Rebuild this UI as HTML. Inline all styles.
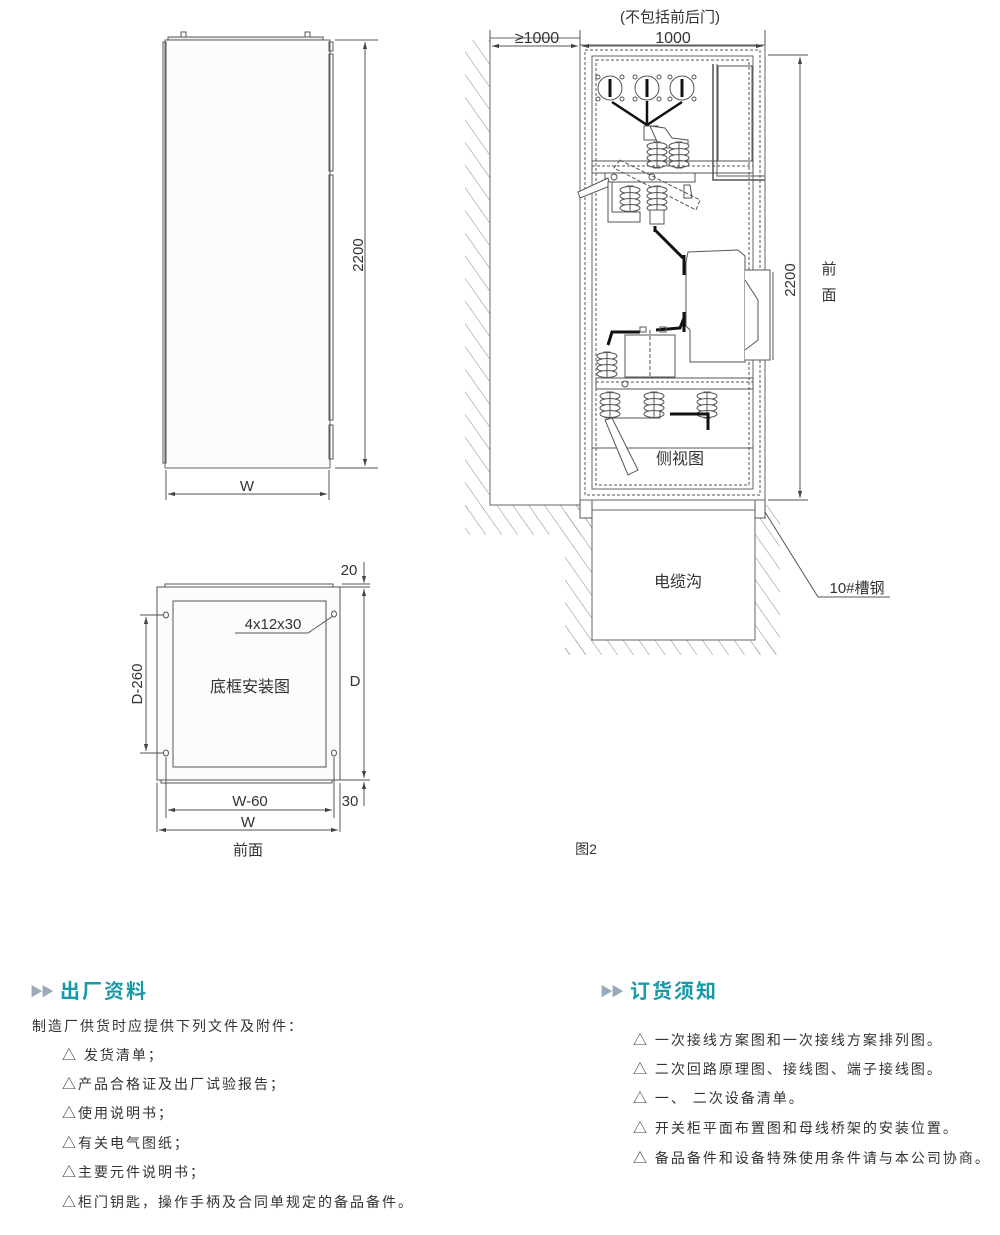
<!DOCTYPE html>
<html><head><meta charset="utf-8"><style>
body{margin:0;background:#fff;width:1000px;height:1235px;overflow:hidden;font-family:"Liberation Sans","Noto Sans CJK SC",sans-serif;}
svg{position:absolute;left:0;top:0}
.t{position:absolute;font-size:14px;color:#333;white-space:nowrap;letter-spacing:2px}
.h{position:absolute;font-size:20px;font-weight:bold;color:#1a9aa8;white-space:nowrap;letter-spacing:2px}
.h span{color:#9aaabb;font-size:13px;margin-right:8px;vertical-align:2px;letter-spacing:-2px}
</style></head><body>
<svg width="1000" height="900" viewBox="0 0 1000 900" font-family="Liberation Sans, Noto Sans CJK SC, sans-serif" fill="none" stroke="#555" stroke-width="1">
<defs>
<marker id="a" viewBox="0 0 10 10" refX="10" refY="5" markerWidth="7" markerHeight="7" orient="auto-start-reverse"><path d="M0,2 L10,5 L0,8z" fill="#444" stroke="none"/></marker>
<pattern id="hat" width="13" height="13" patternUnits="userSpaceOnUse" patternTransform="rotate(-35)"><line x1="0" y1="0" x2="0" y2="13" stroke="#888" stroke-width="1"/></pattern>
<g id="ins"><rect x="-3" y="0" width="6" height="26" fill="#fff" stroke="#555"/><ellipse cx="0" cy="4" rx="10" ry="3.5" fill="#fff"/><ellipse cx="0" cy="10" rx="10" ry="3.5" fill="#fff"/><ellipse cx="0" cy="16" rx="10" ry="3.5" fill="#fff"/><ellipse cx="0" cy="22" rx="10" ry="3.5" fill="#fff"/><line x1="0" y1="0" x2="0" y2="26"/></g>
<g id="dial"><circle r="12" fill="#fff"/><rect x="-1.5" y="-9" width="3" height="18" fill="#111" stroke="none"/><circle cx="-12" cy="-11" r="2"/><circle cx="12" cy="-11" r="2"/><circle cx="-12" cy="11" r="2"/><circle cx="12" cy="11" r="2"/></g>
</defs>

<!-- Front view -->
<rect x="165" y="40" width="165" height="428" fill="#fcfcfc" stroke="#666"/>
<rect x="168" y="37" width="155" height="3" fill="#eee"/>
<rect x="181" y="32" width="5" height="5"/><rect x="305" y="32" width="5" height="5"/>
<rect x="163" y="42" width="3" height="421"/>
<rect x="329" y="42" width="4" height="9"/><rect x="329" y="54" width="4" height="117"/><rect x="329" y="175" width="4" height="245"/><rect x="329" y="425" width="4" height="34"/>
<line x1="335" y1="40" x2="378" y2="40"/><line x1="335" y1="468" x2="378" y2="468"/>
<line x1="365" y1="42" x2="365" y2="466" marker-start="url(#a)" marker-end="url(#a)"/>
<text x="365" y="255" transform="rotate(-90 365 255)" text-anchor="middle" dy="-2" font-size="15" fill="#333" stroke="none">2200</text>
<line x1="166" y1="470" x2="166" y2="500"/><line x1="329" y1="470" x2="329" y2="500"/>
<line x1="168" y1="494" x2="327" y2="494" marker-start="url(#a)" marker-end="url(#a)"/>
<text x="247" y="491" text-anchor="middle" font-size="15" fill="#333" stroke="none">W</text>

<!-- Base plan -->
<rect x="165" y="584" width="168" height="3"/>
<rect x="157" y="587" width="183" height="193" fill="#fcfcfc"/>
<rect x="161" y="780" width="171" height="3"/>
<rect x="173" y="601" width="153" height="166" fill="#fcfcfc"/>
<ellipse cx="166" cy="615" rx="2.5" ry="3"/><ellipse cx="334" cy="614" rx="2.5" ry="3"/><ellipse cx="166" cy="753" rx="2.5" ry="3"/><ellipse cx="334" cy="753" rx="2.5" ry="3"/>
<line x1="140" y1="615" x2="164" y2="615"/><line x1="140" y1="753" x2="164" y2="753"/>
<line x1="146" y1="617" x2="146" y2="751" marker-start="url(#a)" marker-end="url(#a)"/>
<text x="137" y="684" transform="rotate(-90 137 684)" text-anchor="middle" dy="5" font-size="15" fill="#333" stroke="none">D-260</text>
<line x1="340" y1="587" x2="370" y2="587"/><line x1="340" y1="780" x2="370" y2="780"/><line x1="342" y1="584" x2="370" y2="584"/>
<line x1="364" y1="589" x2="364" y2="778" marker-start="url(#a)" marker-end="url(#a)"/>
<line x1="364" y1="562" x2="364" y2="583" marker-end="url(#a)"/>
<line x1="364" y1="806" x2="364" y2="782" marker-end="url(#a)"/>
<text x="355" y="686" text-anchor="middle" font-size="15" fill="#333" stroke="none">D</text>
<text x="349" y="575" text-anchor="middle" font-size="15" fill="#333" stroke="none">20</text>
<text x="350" y="806" text-anchor="middle" font-size="15" fill="#333" stroke="none">30</text>
<line x1="166" y1="757" x2="166" y2="818"/><line x1="334" y1="757" x2="334" y2="818"/>
<line x1="157" y1="783" x2="157" y2="832"/><line x1="340" y1="783" x2="340" y2="832"/>
<line x1="168" y1="810" x2="332" y2="810" marker-start="url(#a)" marker-end="url(#a)"/>
<line x1="159" y1="830" x2="338" y2="830" marker-start="url(#a)" marker-end="url(#a)"/>
<text x="250" y="806" text-anchor="middle" font-size="15" fill="#333" stroke="none">W-60</text>
<text x="248" y="827" text-anchor="middle" font-size="15" fill="#333" stroke="none">W</text>
<text x="248" y="855" text-anchor="middle" font-size="15" fill="#333" stroke="none">前面</text>
<text x="273" y="629" text-anchor="middle" font-size="15" fill="#333" stroke="none">4x12x30</text>
<polyline points="235,633 308,633 333,616"/>
<text x="250" y="692" text-anchor="middle" font-size="16" fill="#333" stroke="none">底框安装图</text>

<!-- Side view: walls -->
<rect x="465" y="40" width="25" height="470" fill="url(#hat)" stroke="none"/>
<rect x="465" y="505" width="127" height="30" fill="url(#hat)" stroke="none"/>
<rect x="565" y="505" width="27" height="150" fill="url(#hat)" stroke="none"/>
<rect x="755" y="505" width="25" height="150" fill="url(#hat)" stroke="none"/>
<rect x="565" y="640" width="215" height="15" fill="url(#hat)" stroke="none"/>
<rect x="490" y="38" width="90" height="467" fill="#fff" stroke="#666"/>
<rect x="592" y="510" width="163" height="130" fill="#fff" stroke="#666"/>
<rect x="580" y="500" width="12" height="18" fill="#fff"/>
<rect x="755" y="500" width="10" height="18" fill="#fff"/>
<text x="678" y="587" text-anchor="middle" font-size="16" fill="#333" stroke="none">电缆沟</text>

<!-- Cabinet side -->
<rect x="580" y="45" width="185" height="455" fill="#fff" stroke="#666"/>
<rect x="585" y="50" width="175" height="445" stroke-dasharray="3,2"/>
<rect x="592" y="56" width="161" height="433" stroke="#666"/>
<rect x="596" y="60" width="153" height="425" stroke-dasharray="3,2"/>
<line x1="592" y1="448" x2="753" y2="448"/>
<rect x="718" y="66" width="34" height="95"/>
<polyline points="713,64 713,180 765,180" stroke-width="1.5"/>
<polyline points="717,64 717,176 765,176"/>
<use href="#dial" x="610" y="88"/><use href="#dial" x="647" y="88"/><use href="#dial" x="682" y="88"/>
<polyline points="612,102 647,125 682,102" stroke="#111" stroke-width="2.5"/>
<line x1="647" y1="101" x2="647" y2="125" stroke="#111" stroke-width="2.5"/>
<rect x="644" y="126" width="14" height="14" fill="#fff"/>
<path d="M650,126 L665,128 L672,138 L688,140 L688,148 L660,148 Z" fill="#fff"/>
<use href="#ins" x="657" y="142"/><use href="#ins" x="679" y="142"/>
<rect x="592" y="161" width="161" height="12" fill="none"/>
<line x1="592" y1="166" x2="753" y2="166" stroke-dasharray="3,2"/>
<rect x="605" y="173" width="90" height="9" fill="#fff"/>
<circle cx="614" cy="177" r="3"/><circle cx="652" cy="177" r="3"/>
<path d="M620,160 L700,200 L696,210 L614,168 Z" stroke-dasharray="4,2"/>
<path d="M608,178 L578,192 L580,198 L610,186 Z" fill="#fff"/>
<use href="#ins" x="630" y="186"/><use href="#ins" x="657" y="186"/>
<path d="M608,182 L612,182 L612,212 L640,212 L640,222 L608,222 Z" fill="#fff"/>
<rect x="650" y="210" width="14" height="14" fill="#fff"/>
<path d="M684,185 L690,185 L692,198 L684,198 Z"/>
<line x1="655" y1="226" x2="655" y2="232" stroke="#111" stroke-width="3"/>
<line x1="655" y1="230" x2="683" y2="258" stroke="#111" stroke-width="3"/>
<line x1="684" y1="255" x2="684" y2="275" stroke="#111" stroke-width="3"/>
<path d="M688,252 L738,250 L745,256 L745,362 L690,362 L690,330 L686,326 L686,262 Z" fill="#fff"/>
<path d="M745,270 L770,270 L770,360 L745,360" fill="#fff"/>
<path d="M745,280 L758,300 L758,340 L745,350"/>
<line x1="773" y1="272" x2="773" y2="360"/>
<line x1="684" y1="312" x2="684" y2="332" stroke="#111" stroke-width="3"/>
<polyline points="684,318 680,328 656,330" stroke="#111" stroke-width="3"/>
<polyline points="608,345 612,332 640,332" stroke="#111" stroke-width="3"/>
<rect x="625" y="335" width="50" height="42" fill="#fff"/>
<line x1="650" y1="330" x2="650" y2="378" stroke-dasharray="4,2"/>
<rect x="640" y="327" width="6" height="5"/><rect x="660" y="327" width="6" height="5"/>
<use href="#ins" x="607" y="352"/>
<rect x="596" y="378" width="157" height="11"/>
<line x1="596" y1="382" x2="753" y2="382" stroke-dasharray="3,2"/>
<circle cx="625" cy="384" r="3"/>
<use href="#ins" x="610" y="392"/><use href="#ins" x="654" y="392"/><use href="#ins" x="707" y="392"/>
<polyline points="605,418 660,418 660,410"/>
<polyline points="670,414 708,414 708,430" stroke="#111" stroke-width="3"/>
<path d="M605,420 L612,418 L638,470 L628,475 Z" fill="#fff"/>
<text x="680" y="464" text-anchor="middle" font-size="16" fill="#333" stroke="none">侧视图</text>

<line x1="490" y1="30" x2="490" y2="45"/><line x1="580" y1="30" x2="580" y2="45"/><line x1="765" y1="30" x2="765" y2="45"/>
<line x1="492" y1="46" x2="578" y2="46" marker-start="url(#a)" marker-end="url(#a)"/>
<line x1="582" y1="46" x2="763" y2="46" marker-start="url(#a)" marker-end="url(#a)"/>
<text x="537" y="43" text-anchor="middle" font-size="16" fill="#333" stroke="none">≥1000</text>
<text x="673" y="43" text-anchor="middle" font-size="16" fill="#333" stroke="none">1000</text>
<text x="670" y="22" text-anchor="middle" font-size="15" fill="#333" stroke="none">(不包括前后门)</text>
<line x1="768" y1="55" x2="808" y2="55"/><line x1="768" y1="500" x2="808" y2="500"/>
<line x1="800" y1="57" x2="800" y2="498" marker-start="url(#a)" marker-end="url(#a)"/>
<text x="790" y="280" transform="rotate(-90 790 280)" text-anchor="middle" dy="5" font-size="15" fill="#333" stroke="none">2200</text>
<text x="829" y="274" text-anchor="middle" font-size="15" fill="#333" stroke="none">前</text>
<text x="829" y="300" text-anchor="middle" font-size="15" fill="#333" stroke="none">面</text>
<polyline points="765,512 818,597 890,597"/>
<text x="857" y="593" text-anchor="middle" font-size="15" fill="#333" stroke="none">10#槽钢</text>
<text x="586" y="854" text-anchor="middle" font-size="14" fill="#333" stroke="none">图2</text>
</svg>

<div class="h" style="left:30px;top:975px"><span>▶▶</span>出厂资料</div>
<div class="t" style="left:32px;top:1016px">制造厂供货时应提供下列文件及附件：</div>
<div class="t" style="left:62px;top:1045px">△ 发货清单；</div>
<div class="t" style="left:62px;top:1074px">△产品合格证及出厂试验报告；</div>
<div class="t" style="left:62px;top:1103px">△使用说明书；</div>
<div class="t" style="left:62px;top:1133px">△有关电气图纸；</div>
<div class="t" style="left:62px;top:1162px">△主要元件说明书；</div>
<div class="t" style="left:62px;top:1192px">△柜门钥匙，操作手柄及合同单规定的备品备件。</div>

<div class="h" style="left:600px;top:975px"><span>▶▶</span>订货须知</div>
<div class="t" style="left:633px;top:1030px">△ 一次接线方案图和一次接线方案排列图。</div>
<div class="t" style="left:633px;top:1059px">△ 二次回路原理图、接线图、端子接线图。</div>
<div class="t" style="left:633px;top:1088px">△ 一、 二次设备清单。</div>
<div class="t" style="left:633px;top:1118px">△ 开关柜平面布置图和母线桥架的安装位置。</div>
<div class="t" style="left:633px;top:1148px">△ 备品备件和设备特殊使用条件请与本公司协商。</div>
</body></html>
